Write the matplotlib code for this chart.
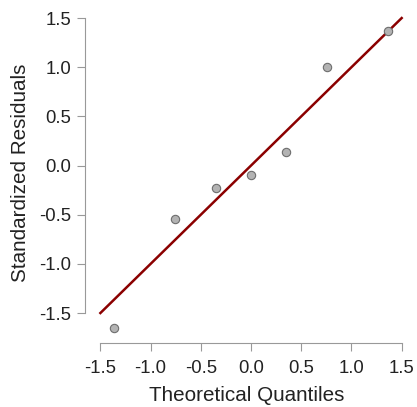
import numpy as np
import matplotlib
import matplotlib.pyplot as plt

matplotlib.use('Agg')

# theoretical quantiles and standardized residuals
theoretical = [-1.364, -0.758, -0.353, 0.0, 0.353, 0.758, 1.364]
residuals = [-1.65, -0.54, -0.23, -0.10, 0.14, 1.00, 1.37]
ticks = [-1.5, -1.0, -0.5, 0.0, 0.5, 1.0, 1.5]
tick_labels = ['-1.5', '-1.0', '-0.5', '0.0', '0.5', '1.0', '1.5']

plt.rcParams['font.family'] = ['Liberation Sans', 'DejaVu Sans']

fig = plt.figure(figsize=(4.17, 4.07), dpi=100)
ax = fig.add_axes([0.2046, 0.1572, 0.7755, 0.8347])

# reference line y = x
ax.plot([ticks[0], ticks[-1]], [ticks[0], ticks[-1]], color='#8b0000', lw=1.8, zorder=2)
ax.scatter(theoretical, residuals, s=36, facecolor='#b3b3b3', edgecolor='#6e6e6e',
           linewidth=0.8, zorder=3)

ax.set_xlim(-1.65, 1.57)
ax.set_ylim(-1.805, 1.65)

for side in ['top', 'right']:
    ax.spines[side].set_visible(False)
ax.spines['left'].set_bounds(ticks[0], ticks[-1])
ax.spines['bottom'].set_bounds(ticks[0], ticks[-1])
for side in ['left', 'bottom']:
    ax.spines[side].set_color('#999999')
    ax.spines[side].set_linewidth(0.8)

ax.set_xticks(ticks)
ax.set_xticklabels(tick_labels)
ax.set_yticks(ticks)
ax.set_yticklabels(tick_labels)
ax.tick_params(length=6, width=0.8, color='#999999', labelsize=13.3,
               labelcolor='#222222')
ax.tick_params(axis='x', pad=6)
ax.tick_params(axis='y', pad=4)

ax.set_xlabel('Theoretical Quantiles', fontsize=14.9, color='#222222', labelpad=7)
ax.set_ylabel('Standardized Residuals', fontsize=14.9, color='#222222', labelpad=7)

plt.savefig('out.png', dpi=100)
